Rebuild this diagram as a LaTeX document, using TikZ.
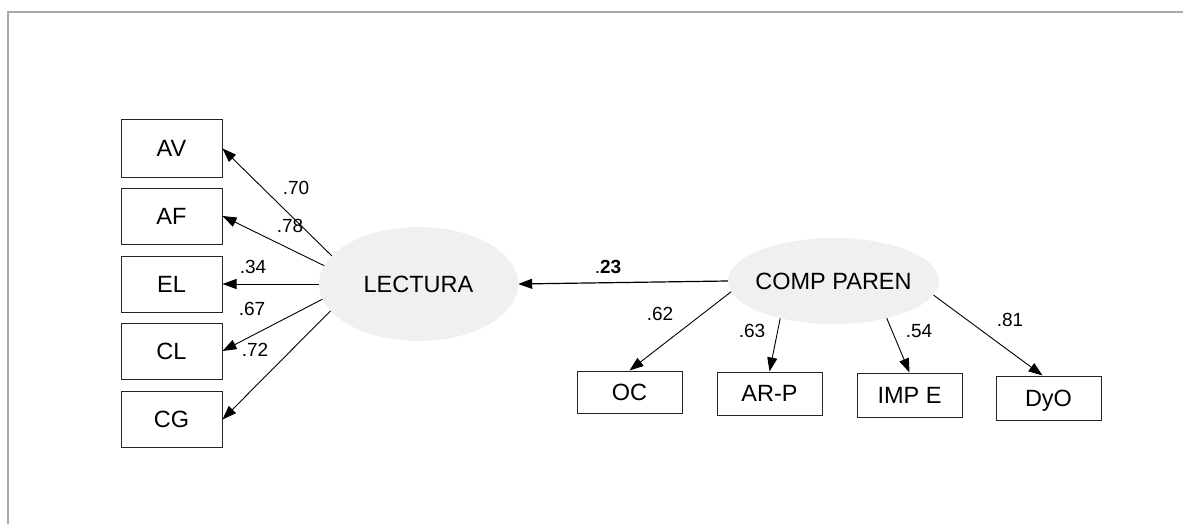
\documentclass[tikz,border=0pt]{standalone}
\usepackage{fontspec}
\setmainfont{Liberation Sans}
\usetikzlibrary{shapes.geometric,arrows.meta}
\definecolor{latentfill}{HTML}{F0F0F0}
\definecolor{framegray}{HTML}{AAAAAA}

\begin{document}
\begin{tikzpicture}[x=1pt,y=-1pt,
  obsbox/.style={draw=black!85,line width=1pt,inner sep=0pt,
    font=\fontsize{23.5}{26}\selectfont,text depth=0pt},
  leftbox/.style={obsbox,minimum width=101pt,minimum height=56pt},
  lowbox/.style={obsbox,minimum width=105pt,minimum height=43pt},
  latent/.style={ellipse,fill=latentfill,draw=none,inner sep=0pt,
    font=\fontsize{23.5}{26}\selectfont,text depth=0pt},
  coef/.style={inner sep=0pt,font=\fontsize{19}{21}\selectfont},
  load/.style={-{Triangle[length=14pt,width=10pt]},line width=0.9pt,black},
  frameline/.style={framegray,line width=1.7pt}
]
\useasboundingbox (0,0) rectangle (1183,524);

% open frame along the top and left edges
\draw[frameline] (8,524) -- (8,12) -- (1183,12);

% latent factors
\node[latent,minimum width=199pt,minimum height=114pt] (lec) at (418.5,284) {LECTURA};
\node[latent,minimum width=211pt,minimum height=86pt] (comp) at (833.5,281) {\makebox[0pt]{COMP PAREN}};

% reading indicators
\node[leftbox,minimum height=57pt] (av) at (171.5,148.5) {AV};
\node[leftbox] (af) at (171.5,216) {AF};
\node[leftbox] (el) at (171.5,284) {EL};
\node[leftbox] (cl) at (171.5,351) {CL};
\node[leftbox] (cg) at (171.5,419.5) {CG};

% parental competence indicators
\node[lowbox,minimum height=42pt] (oc) at (629.5,392) {OC};
\node[lowbox] (arp) at (769.5,393.5) {AR-P};
\node[lowbox,minimum height=44pt] (impe) at (909.5,395) {IMP E};
\node[lowbox,minimum height=44pt] (dyo) at (1048.5,398) {DyO};

% loadings of LECTURA
\draw[load] (lec.162.7) -- (av.east);
\draw[load] (lec.169.9) -- (af.east);
\draw[load] (lec.180) -- (el.east);
\draw[load] (lec.189.5) -- (cl.east);
\draw[load] (lec.197.9) -- (cg.east);

% loadings of COMP PAREN
\draw[load] (comp.186.7) -- (oc.north);
\draw[load] (comp.215.7) -- (arp.north);
\draw[load] (comp.325.8) -- (impe.north);
\draw[load] (comp.352.6) -- ([xshift=-6pt]dyo.north);

% structural path
\draw[load,line width=1.2pt] (comp.west) -- (lec.east);

% coefficients
\node[coef] (c70) at (296,188) {.70};
\node[coef] (c78) at (290,226) {.78};
\node[coef] (c34) at (253,267) {.34};
\node[coef] (c67) at (252,309) {.67};
\node[coef] (c72) at (255,350) {.72};
\node[coef] (c23) at (608,267) {.\textbf{23}};
\node[coef] (c62) at (660,314) {.62};
\node[coef] (c63) at (752,331) {.63};
\node[coef] (c54) at (919,331) {.54};
\node[coef] (c81) at (1010,320) {.81};
\end{tikzpicture}
\end{document}
